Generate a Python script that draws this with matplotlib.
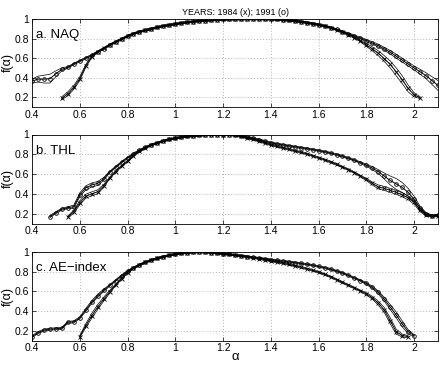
import numpy as np
import matplotlib
matplotlib.use("Agg")
import matplotlib.pyplot as plt

plt.rcParams['font.family'] = ['Liberation Sans', 'DejaVu Sans']

# alpha sampling grid (0.40 ... 2.10)
alpha_grid = [0.400, 0.425, 0.450, 0.475, 0.500, 0.525, 0.550, 0.575, 0.600, 0.625,
              0.650, 0.675, 0.700, 0.725, 0.750, 0.775, 0.800, 0.825, 0.850, 0.875,
              0.900, 0.925, 0.950, 0.975, 1.000, 1.025, 1.050, 1.075, 1.100, 1.125,
              1.150, 1.175, 1.200, 1.225, 1.250, 1.275, 1.300, 1.325, 1.350, 1.375,
              1.400, 1.425, 1.450, 1.475, 1.500, 1.525, 1.550, 1.575, 1.600, 1.625,
              1.650, 1.675, 1.700, 1.725, 1.750, 1.775, 1.800, 1.825, 1.850, 1.875,
              1.900, 1.925, 1.950, 1.975, 2.000, 2.025, 2.050, 2.075, 2.100]

# ---- a. NAQ ----
naq91_start = 0
naq91_f = [0.365, 0.385, 0.385, 0.39, 0.44, 0.485, 0.505, 0.54, 0.57, 0.60,
           0.63, 0.665, 0.695, 0.735, 0.765, 0.795, 0.825, 0.85, 0.87, 0.885,
           0.9, 0.915, 0.928, 0.938, 0.948, 0.958, 0.966, 0.973, 0.979, 0.984,
           0.988, 0.992, 0.995, 0.997, 0.998, 0.999, 1.0, 1.0, 1.0, 0.999,
           0.998, 0.995, 0.991, 0.986, 0.98, 0.972, 0.963, 0.953, 0.942, 0.928,
           0.912, 0.893, 0.872, 0.85, 0.828, 0.805, 0.78, 0.755, 0.728, 0.695,
           0.66, 0.62, 0.58, 0.54, 0.50, 0.46, 0.42, 0.37, 0.32]
naq91_err = [0.02, 0.03, 0.04, 0.045, 0.03, 0.015] + [0.008]*50 + \
            [0.012, 0.012, 0.015, 0.015, 0.018, 0.02, 0.02, 0.02, 0.02, 0.025, 0.03, 0.04, 0.05]

naq84_start = 5
naq84_f = [0.19, 0.235, 0.30, 0.39, 0.52, 0.615, 0.665, 0.70, 0.735,
           0.765, 0.795, 0.825, 0.85, 0.87, 0.885, 0.9, 0.915, 0.928, 0.938,
           0.948, 0.958, 0.966, 0.973, 0.979, 0.984, 0.988, 0.992, 0.995, 0.997,
           0.998, 0.999, 1.0, 1.0, 1.0, 0.999, 0.998, 0.995, 0.991, 0.986,
           0.98, 0.972, 0.963, 0.953, 0.942, 0.928, 0.912,
           0.89, 0.865, 0.84, 0.81, 0.775, 0.735, 0.695, 0.65, 0.595,
           0.535, 0.46, 0.38, 0.29, 0.225, 0.195]
naq84_err = [0.015, 0.02, 0.02, 0.02, 0.015, 0.01] + [0.008]*45 + \
            [0.015, 0.02, 0.025, 0.03, 0.035, 0.04, 0.04, 0.035, 0.02, 0.01]

# ---- b. THL ----
thl91_start = 3
thl91_f = [0.17, 0.21, 0.245, 0.26, 0.27, 0.39, 0.46, 0.49, 0.505, 0.55,
           0.62, 0.67, 0.72, 0.765, 0.805, 0.84, 0.87, 0.895, 0.915, 0.935,
           0.95, 0.962, 0.972, 0.98, 0.986, 0.991, 0.995, 0.998, 1.0, 1.0,
           0.998, 0.993, 0.985, 0.975, 0.962, 0.948, 0.932, 0.917, 0.905, 0.895,
           0.885, 0.876, 0.867, 0.858, 0.848, 0.838, 0.825, 0.812, 0.797, 0.78,
           0.76, 0.74, 0.715, 0.69, 0.66, 0.625, 0.58, 0.535, 0.50, 0.465,
           0.415, 0.345, 0.255, 0.195, 0.175, 0.185]
thl91_err = [0.01, 0.01, 0.01, 0.01, 0.015, 0.02, 0.02, 0.02, 0.02, 0.015] + [0.008]*43 + \
            [0.012, 0.015, 0.02, 0.03, 0.045, 0.055, 0.05, 0.04, 0.03, 0.02, 0.015, 0.01, 0.01]

thl84_start = 6
thl84_f = [0.165, 0.22, 0.31, 0.375, 0.40, 0.42, 0.48, 0.56, 0.625, 0.68,
           0.73, 0.785, 0.83, 0.865,
           0.895, 0.915, 0.935, 0.95, 0.962, 0.972, 0.98, 0.986, 0.991, 0.995,
           0.998, 1.0, 1.0, 0.998,
           0.99, 0.98, 0.965, 0.95, 0.935, 0.915, 0.895, 0.88, 0.865, 0.85,
           0.835, 0.82, 0.805, 0.785, 0.765, 0.745, 0.722, 0.698, 0.672, 0.645,
           0.615, 0.58, 0.545, 0.505, 0.47, 0.455, 0.435, 0.415, 0.39, 0.36,
           0.315, 0.24, 0.19, 0.175, 0.18]
thl84_err = [0.01, 0.015, 0.02, 0.02, 0.02, 0.02, 0.015] + [0.008]*43 + \
            [0.012, 0.015, 0.02, 0.02, 0.02, 0.02, 0.02, 0.02, 0.02, 0.02, 0.015, 0.01, 0.01]

# ---- c. AE-index ----
ae91_start = 0
ae91_f = [0.14, 0.18, 0.205, 0.215, 0.22, 0.225, 0.285, 0.29, 0.33, 0.41,
          0.49, 0.555, 0.61, 0.66, 0.71, 0.76, 0.805, 0.84, 0.87, 0.895,
          0.918, 0.935, 0.952, 0.966, 0.978, 0.987, 0.993, 0.998, 1.0, 0.998,
          0.994, 0.988, 0.982, 0.975, 0.968, 0.96, 0.953, 0.945, 0.938, 0.93,
          0.922, 0.915, 0.907, 0.9, 0.892, 0.884, 0.875, 0.865, 0.853, 0.84,
          0.825, 0.806, 0.786, 0.762, 0.735, 0.71, 0.68, 0.64, 0.59, 0.52,
          0.44, 0.36, 0.27, 0.19, 0.15]
ae91_err = [0.01]*9 + [0.015, 0.015, 0.015, 0.012] + [0.008]*43 + \
           [0.01, 0.012, 0.015, 0.02, 0.025, 0.03, 0.03, 0.02, 0.01]

ae84_start = 8
ae84_f = [0.14, 0.25, 0.35, 0.44, 0.52, 0.595, 0.665, 0.73, 0.79, 0.835, 0.868,
          0.895, 0.918, 0.935, 0.952, 0.966, 0.978, 0.987, 0.993, 0.998, 1.0,
          0.998, 0.994, 0.988, 0.982, 0.975, 0.968, 0.96, 0.953,
          0.943, 0.933, 0.922, 0.91, 0.898, 0.886, 0.873, 0.86, 0.845, 0.83,
          0.813, 0.795, 0.772, 0.748, 0.72, 0.69, 0.662, 0.635, 0.605, 0.575,
          0.535, 0.48, 0.41, 0.30, 0.19, 0.15, 0.14]
ae84_err = [0.01, 0.02, 0.025, 0.025, 0.02, 0.015] + [0.008]*42 + \
           [0.012, 0.015, 0.02, 0.025, 0.03, 0.025, 0.015, 0.01]

panels = [
    ("a. NAQ", (naq84_start, naq84_f, naq84_err), (naq91_start, naq91_f, naq91_err)),
    ("b. THL", (thl84_start, thl84_f, thl84_err), (thl91_start, thl91_f, thl91_err)),
    ("c. AE\u2212index", (ae84_start, ae84_f, ae84_err), (ae91_start, ae91_f, ae91_err)),
]

xticks = [0.4, 0.6, 0.8, 1.0, 1.2, 1.4, 1.6, 1.8, 2.0]
xticklabels = ['0.4', '0.6', '0.8', '1', '1.2', '1.4', '1.6', '1.8', '2']
yticks = [0.2, 0.4, 0.6, 0.8, 1.0]
yticklabels = ['0.2', '0.4', '0.6', '0.8', '1']

W, H = 443, 367
fig = plt.figure(figsize=(W / 100, H / 100), dpi=100)
# pixel boxes (top, bottom) of the three panels
boxes = [(19, 107), (134.5, 223.5), (252, 340.5)]
left, right = 32, 438

def draw_curve(ax, curve, marker):
    i0, f, err = curve
    al = np.array(alpha_grid[i0:i0 + len(f)])
    f = np.array(f)
    err = np.array(err)
    ax.plot(al, f + err, '-', color='k', lw=0.5)
    ax.plot(al, f - err, '-', color='k', lw=0.5)
    ax.plot(al, f, '-', color='k', lw=0.7, marker=marker, ms=2.6,
            mfc='none', mec='k', mew=0.6)

axes = []
for (top, bot), (name, c84, c91) in zip(boxes, panels):
    ax = fig.add_axes([left / W, 1 - bot / H, (right - left) / W, (bot - top) / H])
    draw_curve(ax, c91, 'o')
    draw_curve(ax, c84, 'x')
    ax.set_xlim(0.4, 2.1)
    ax.set_ylim(0.1, 1.0)
    ax.set_xticks(xticks)
    ax.set_xticklabels(xticklabels)
    ax.set_yticks(yticks)
    ax.set_yticklabels(yticklabels)
    ax.tick_params(direction='in', top=True, right=True, labelsize=7.5,
                   length=3, width=0.5, pad=2)
    ax.grid(True, linestyle=(0, (1, 2.5)), color='0.6', lw=0.6)
    for s in ax.spines.values():
        s.set_linewidth(0.6)
    ax.set_ylabel('f(\u03b1)', fontsize=9, labelpad=1)
    ax.text(0.418, 0.835, name, fontsize=9.5, va='center', ha='left')
    axes.append(ax)

axes[0].set_title('YEARS: 1984 (x); 1991 (o)', fontsize=6.5, pad=3)
fig.text((left + right) / 2 / W, 1 - 357 / H, '\u03b1', fontsize=9.5,
         ha='center', va='center')

fig.savefig('out.png', dpi=100)
